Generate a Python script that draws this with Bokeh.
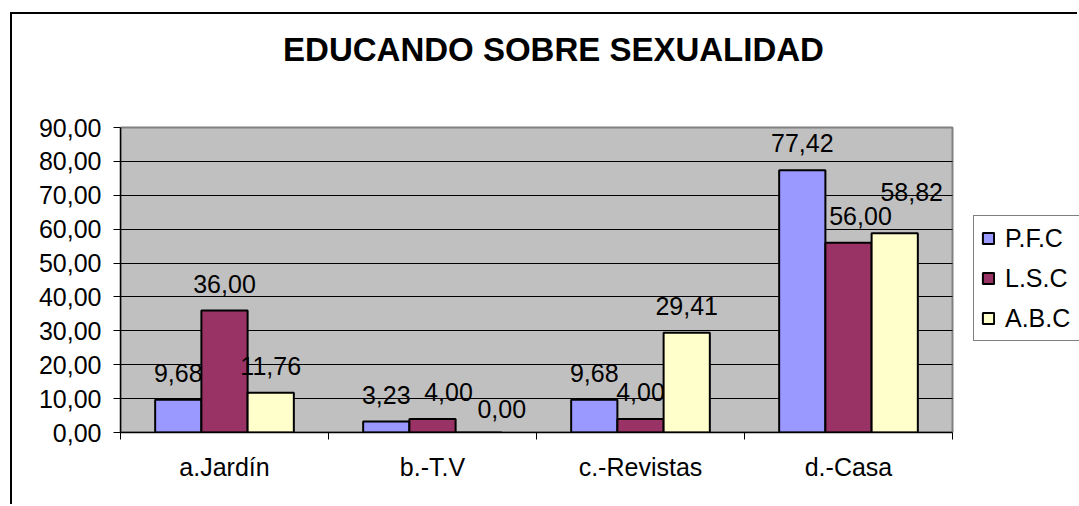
import numpy as np
from bokeh.plotting import figure
from bokeh.models import (Range1d, FixedTicker, ColumnDataSource, Legend,
                          LegendItem, Label)
from bokeh.embed import file_html
from bokeh.resources import INLINE
from bokeh.core.properties import value

# ---------------- data ----------------
TITLE = "EDUCANDO SOBRE SEXUALIDAD"
categories = ["a.Jardín", "b.-T.V", "c.-Revistas", "d.-Casa"]
series_names = ["P.F.C", "L.S.C", "A.B.C"]
pfc = [9.68, 3.23, 9.68, 77.42]
lsc = [36.00, 4.00, 4.00, 56.00]
abc = [11.76, 0.00, 29.41, 58.82]
y_ticks = [0, 10, 20, 30, 40, 50, 60, 70, 80, 90]

# ---------------- style / layout ----------------
FONT = "Liberation Sans"
colors = ["#9999FF", "#993366", "#FFFFCC"]
BAR_W = 2.0 / 9.0          # Excel gap width 150 %
# per-label pixel nudges (as in the original, some labels were moved)
label_dx = [[0, 0, 0, 0], [0, 16, 0, 12], [0, 23, 0, 17]]
label_dy = [[0, 0, 0, 0], [0, 0, 0, 0], [0, 3, 0, -14]]

W, H = 1067, 492            # canvas (page offset 12,14 after margin+border)
LEFT, BOTTOM = 108, 74      # axis panels
PLOT_W, PLOT_H = 832, 305   # grey plot-area size in px
FRAME_W, FRAME_H = W - LEFT, H - BOTTOM

n = len(categories)
ymax = y_ticks[-1]


def fmt(v):
    return f"{v:.2f}".replace(".", ",")


p = figure(width=W, height=H,
           x_range=Range1d(0, n * FRAME_W / PLOT_W),
           y_range=Range1d(0, ymax * FRAME_H / PLOT_H),
           output_backend="svg", toolbar_location=None, title=None,
           min_border_left=LEFT, min_border_right=0,
           min_border_top=0, min_border_bottom=BOTTOM,
           background_fill_color="white", border_fill_color="white",
           outline_line_color=None)
# outer chart-area frame (left and top edges visible in the original)
p.margin = (12, 0, 0, 10)
p.styles = {"border-left": "2px solid black", "border-top": "2px solid black"}

# grey plot area
p.quad(left=0, right=n, bottom=0, top=ymax, fill_color="#C0C0C0",
       line_color="#808080", line_width=2, level="image")

# y axis
p.yaxis.bounds = (0, ymax)
p.yaxis.ticker = FixedTicker(ticks=y_ticks)
p.yaxis.major_label_overrides = {t: fmt(t) for t in y_ticks}
p.yaxis.major_tick_out = 7
p.yaxis.major_tick_in = 0
p.yaxis.major_tick_line_color = "black"
p.yaxis.minor_tick_line_color = None
p.yaxis.axis_line_color = "black"
p.yaxis.axis_line_width = 1.5
p.yaxis.major_label_text_font = FONT
p.yaxis.major_label_text_font_size = "25px"
p.yaxis.major_label_text_color = "black"
p.yaxis.major_label_standoff = 12

# x axis
centers = [i + 0.5 for i in range(n)]
p.xaxis.bounds = (0, n)
p.xaxis.ticker = FixedTicker(ticks=centers, minor_ticks=list(range(n + 1)))
p.xaxis.major_label_overrides = {c: cat for c, cat in zip(centers, categories)}
p.xaxis.major_tick_line_color = None
p.xaxis.major_tick_out = 0
p.xaxis.major_tick_in = 0
p.xaxis.minor_tick_line_color = "black"
p.xaxis.minor_tick_out = 7
p.xaxis.minor_tick_in = 0
p.xaxis.axis_line_color = "black"
p.xaxis.axis_line_width = 1.5
p.xaxis.major_label_text_font = FONT
p.xaxis.major_label_text_font_size = "25px"
p.xaxis.major_label_text_color = "black"
p.xaxis.major_label_standoff = 13

# grid
p.xgrid.visible = False
p.ygrid.ticker = FixedTicker(ticks=y_ticks[1:-1])
p.ygrid.grid_line_color = "black"
p.ygrid.grid_line_width = 1
try:
    p.ygrid.cross_bounds = (0, n)
except Exception:
    p.ygrid.visible = False
    p.segment(x0=0, x1=n, y0=y_ticks[1:-1], y1=y_ticks[1:-1],
              line_color="black", line_width=1, level="image")

# bars + labels
items = []
base = np.arange(n) + 0.5
for j, (name, vals, col) in enumerate(zip(series_names, [pfc, lsc, abc], colors)):
    xs = base + (j - 1) * BAR_W
    src = ColumnDataSource(dict(
        x=xs, top=vals, txt=[fmt(v) for v in vals],
        dx=label_dx[j], dy=[-27 + d for d in label_dy[j]]))
    r = p.vbar(x="x", top="top", width=BAR_W, source=src,
               fill_color=col, line_color="black", line_width=2)
    p.text(x="x", y="top", text="txt", source=src, x_offset="dx", y_offset="dy",
           text_align="center", text_baseline="middle",
           text_font=value(FONT), text_font_size="25px", text_color="black")
    items.append(LegendItem(label=name, renderers=[r]))

# legend box runs past the right edge of the window, as in the original
legend = Legend(items=items, location=(853, 91), orientation="vertical",
                padding=7, spacing=10, label_height=30, glyph_height=14,
                glyph_width=14, label_standoff=10, label_width=100, margin=0,
                label_text_font=FONT, label_text_font_size="25px",
                label_text_color="black",
                border_line_color="black", border_line_width=1.5,
                background_fill_color="white", background_fill_alpha=1.0)
p.add_layout(legend)

# title (page centre x ~553, y ~49)
p.add_layout(Label(x=(553 - 120) / PLOT_W * n, y=(432 - 49) / PLOT_H * ymax,
                   text=TITLE, text_align="center", text_baseline="middle",
                   text_font=FONT, text_font_size="33px",
                   text_font_style="bold", text_color="black"))

with open("out.html", "w", encoding="utf-8") as f:
    f.write(file_html(p, INLINE))
